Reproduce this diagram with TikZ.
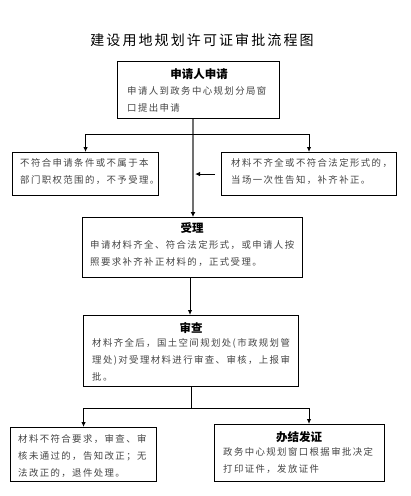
\documentclass[tikz,border=0pt]{standalone}
\usepackage{fontspec}
\setmainfont{Noto Sans CJK SC}
\newfontfamily\bodyf[LetterSpace=15]{Noto Sans CJK SC}
\newfontfamily\titlef[LetterSpace=15]{Noto Sans CJK SC}
\usetikzlibrary{arrows.meta}
\definecolor{bodygray}{HTML}{454545}
\definecolor{trunkgray}{HTML}{707070}
\tikzset{
  box/.style={draw=black, line width=1.1pt, rectangle, inner sep=0pt, anchor=north west},
  head/.style={font=\fontsize{11.5}{13}\selectfont\bfseries, text=black, inner sep=0pt},
  body/.style={font=\bodyf\fontsize{9.4}{17}\selectfont, text=bodygray, align=left, inner sep=0pt, anchor=west},
  conn/.style={draw=black, line width=1pt},
  arr/.style={conn, -{Latex[length=5pt,width=4.5pt]}},
  trunkarr/.style={draw=trunkgray, line width=2pt, -{Latex[length=5pt,width=5pt,color=black]}}
}
\begin{document}
\begin{tikzpicture}[x=1pt,y=-1pt]
\useasboundingbox (0,0) rectangle (411,496);
\fill[white] (0,0) rectangle (411,496);
% title
\node[font=\titlef\fontsize{14}{16}\selectfont, text=black, inner sep=0pt] (title) at (202,40) {建设用地规划许可证审批流程图};
% boxes
\node[box, minimum width=162pt, minimum height=57pt] (apply) at (117,61) {};
\node[box, minimum width=146pt, minimum height=43pt] (reject) at (12,152) {};
\node[box, minimum width=175pt, minimum height=43pt] (fix) at (221,152) {};
\node[box, minimum width=220pt, minimum height=60pt] (accept) at (82,217) {};
\node[box, minimum width=215pt, minimum height=71pt] (review) at (83,315) {};
\node[box, minimum width=146pt, minimum height=54pt] (fail) at (10,427) {};
\node[box, minimum width=170pt, minimum height=57pt] (issue) at (214,424) {};
% texts
\node[head] (applyh) at (199,74) {申请人申请};
\node[body] (applyt) at (127,99.5) {申请人到政务中心规划分局窗\\口提出申请};
\node[body] (rejectt) at (20,171.5) {不符合申请条件或不属于本\\部门职权范围的，不予受理。};
\node[body] (fixt) at (231,171.5) {材料不齐全或不符合法定形式的，\\当场一次性告知，补齐补正。};
\node[head] (accepth) at (192,228) {受理};
\node[body] (acceptt) at (90,253.5) {申请材料齐全、符合法定形式，或申请人按\\照要求补齐补正材料的，正式受理。};
\node[head] (reviewh) at (191,328) {审查};
\node[body] (reviewt) at (92,360) {材料齐全后，国土空间规划处(市政规划管\\理处)对受理材料进行审查、审核，上报审\\批。};
\node[body] (failt) at (18,456) {材料不符合要求，审查、审\\核未通过的，告知改正；无\\法改正的，退件处理。};
\node[head] (issueh) at (299,437) {办结发证};
\node[body] (issuet) at (223,461) {政务中心规划窗口根据审批决定\\打印证件，发放证件};
% connectors
\coordinate (trunk) at (193,0);
\coordinate (split1) at (193,134);
\coordinate (split2) at (191,408);
\draw[trunkarr] (apply.south -| trunk) -- (accept.north -| trunk);
\draw[arr] (split1) -| (reject.north);
\draw[arr] (split1) -| (fix.north -| 309,0);
\draw[arr, shorten <=6pt] (fix.west) -- (fix.west -| 195,0);
\draw[arr] (accept.south -| 190,0) -- (review.north -| 190,0);
\draw[conn] (review.south -| split2) -- (split2);
\draw[arr] (split2) -| (fail.north);
\draw[arr] (split2) -| (issue.north -| 309,0);
\end{tikzpicture}
\end{document}
